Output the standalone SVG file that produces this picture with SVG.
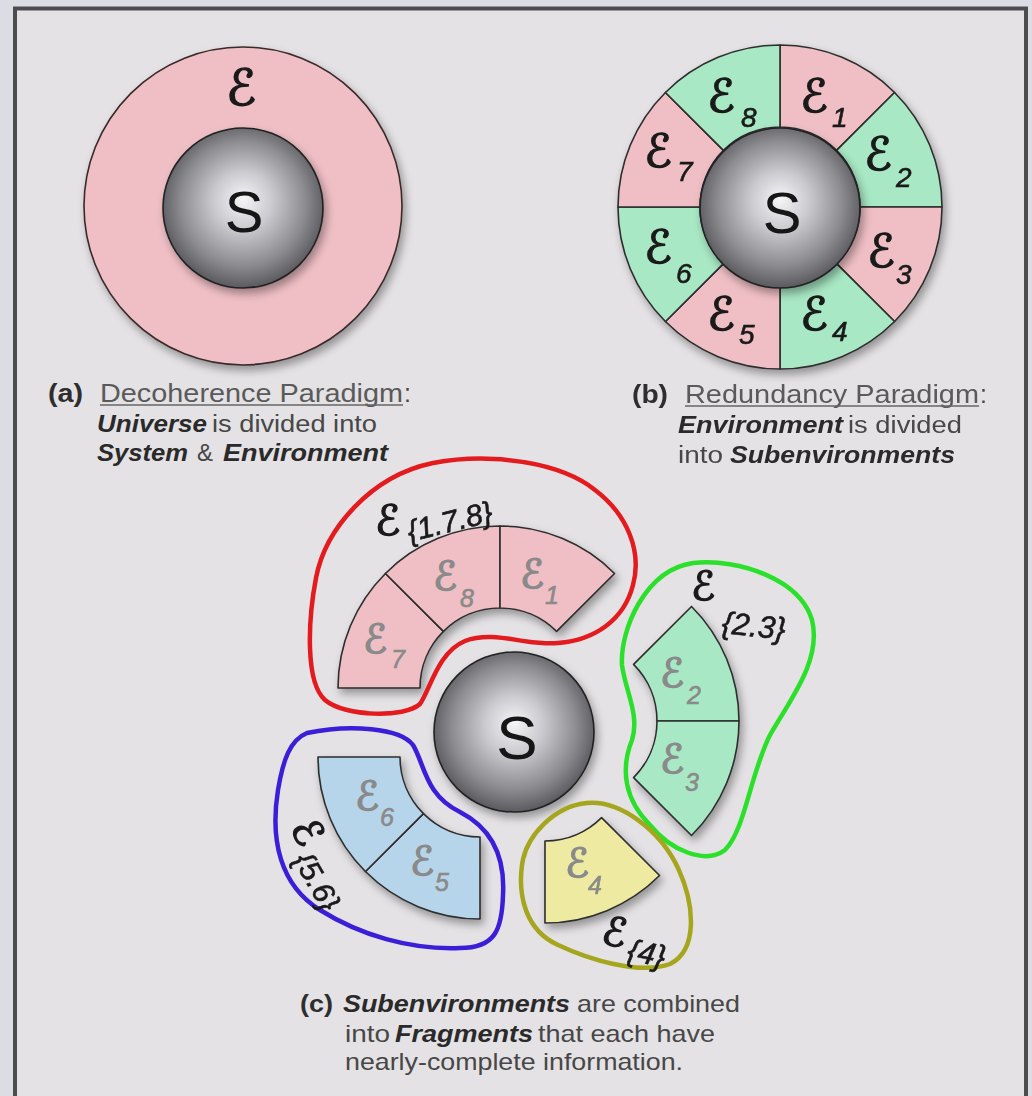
<svg xmlns="http://www.w3.org/2000/svg" xmlns:xlink="http://www.w3.org/1999/xlink" width="1032" height="1096" viewBox="0 0 1032 1096">
<style>
.cap{font-family:"Liberation Sans",Arial,sans-serif;fill:#474747}
.b{font-weight:bold;fill:#2e2e2e}
.bi{font-weight:bold;font-style:italic;fill:#2a2a2a}
.ul{fill:#5a5a5a}
.s{font-family:"Liberation Sans",Arial,sans-serif;fill:#151515;text-anchor:middle}
.E{font-family:"DejaVu Sans",sans-serif;fill:#1a1a1a;stroke:#1a1a1a;stroke-width:1.4;stroke-linejoin:round}
.sub{font-family:"Liberation Sans",Arial,sans-serif;font-style:italic;fill:#1a1a1a;stroke:#1a1a1a;stroke-width:0.6}
.g .E,.g .sub{fill:#8a8a8a;stroke:#8a8a8a}
.seg{stroke:#2d2d2d;stroke-width:1.6;stroke-linejoin:round}
.pk{fill:#efbfc5}.gr{fill:#a8e8c4}.bl{fill:#b6d5ea}.ye{fill:#eeeaa2}
.blob{fill:none;stroke-width:4.5;stroke-linejoin:round}
.sph{fill:url(#sph);stroke:#222;stroke-width:1.6}
</style>
<defs>
<radialGradient id="sph" cx="50%" cy="48%" r="52%" fx="50%" fy="44%">
<stop offset="0" stop-color="#f6f6f8"/>
<stop offset="0.35" stop-color="#cacacf"/>
<stop offset="0.75" stop-color="#8b8b90"/>
<stop offset="1" stop-color="#5a5a5f"/>
</radialGradient>
<filter id="sh" x="-20%" y="-20%" width="150%" height="150%">
<feDropShadow dx="3" dy="5" stdDeviation="4" flood-color="#000" flood-opacity="0.35"/>
</filter>
<path id="sector" d="M0,-162 A162,162 0 0 1 114.55,-114.55 L56.57,-56.57 A80,80 0 0 0 0,-80 Z"/>
</defs>

<rect x="0" y="0" width="1032" height="1096" fill="#dcdce4"/>
<rect x="15" y="8.5" width="1011" height="1120" fill="#e4e2e4" stroke="#4d4d50" stroke-width="4"/>

<!-- (a) -->
<g id="ringA" filter="url(#sh)">
<circle cx="243" cy="206" r="159" class="pk" stroke="#3a2a2a" stroke-width="1.6"/>
</g>
<g id="labelEA"><text class="E" x="226" y="105" font-size="50">ℰ</text></g>
<g id="sphereA" filter="url(#sh)">
<circle cx="243" cy="208" r="80" class="sph"/>
<text class="s" x="244" y="232" font-size="58">S</text>
</g>
<g id="captionA" class="cap">
<text class="b" x="48" y="402" font-size="25" textLength="35" lengthAdjust="spacingAndGlyphs">(a)</text>
<text class="ul" x="100" y="402" font-size="25" textLength="303" lengthAdjust="spacingAndGlyphs">Decoherence Paradigm</text>
<line x1="100" y1="405" x2="403" y2="405" stroke="#666" stroke-width="1.5"/>
<text x="404" y="402" font-size="25">:</text>
<text class="bi" x="97" y="432" font-size="23" textLength="110" lengthAdjust="spacingAndGlyphs">Universe</text>
<text x="212" y="432" font-size="23" textLength="165" lengthAdjust="spacingAndGlyphs">is divided into</text>
<text class="bi" x="97" y="461" font-size="23" textLength="91" lengthAdjust="spacingAndGlyphs">System</text>
<text x="197" y="461" font-size="23" textLength="16" lengthAdjust="spacingAndGlyphs">&amp;</text>
<text class="bi" x="223" y="461" font-size="23" textLength="165" lengthAdjust="spacingAndGlyphs">Environment</text>
</g>

<!-- (b) -->
<g id="ringB" filter="url(#sh)">
<g id="b-e1"><use xlink:href="#sector" class="seg pk" transform="translate(780,207) rotate(0)"/></g>
<g id="b-e2"><use xlink:href="#sector" class="seg gr" transform="translate(780,207) rotate(45)"/></g>
<g id="b-e3"><use xlink:href="#sector" class="seg pk" transform="translate(780,207) rotate(90)"/></g>
<g id="b-e4"><use xlink:href="#sector" class="seg gr" transform="translate(780,207) rotate(135)"/></g>
<g id="b-e5"><use xlink:href="#sector" class="seg pk" transform="translate(780,207) rotate(180)"/></g>
<g id="b-e6"><use xlink:href="#sector" class="seg gr" transform="translate(780,207) rotate(225)"/></g>
<g id="b-e7"><use xlink:href="#sector" class="seg pk" transform="translate(780,207) rotate(270)"/></g>
<g id="b-e8"><use xlink:href="#sector" class="seg gr" transform="translate(780,207) rotate(315)"/></g>
</g>
<g id="labelsB">
<text class="E" x="707" y="112" font-size="46">ℰ</text><text class="sub" x="741" y="127" font-size="28">8</text>
<text class="E" x="800" y="112" font-size="46">ℰ</text><text class="sub" x="832" y="127" font-size="28">1</text>
<text class="E" x="644" y="167" font-size="46">ℰ</text><text class="sub" x="677" y="181" font-size="28">7</text>
<text class="E" x="864" y="170" font-size="46">ℰ</text><text class="sub" x="896" y="187" font-size="28">2</text>
<text class="E" x="644" y="263" font-size="46">ℰ</text><text class="sub" x="676" y="283" font-size="28">6</text>
<text class="E" x="867" y="267" font-size="46">ℰ</text><text class="sub" x="896" y="284" font-size="28">3</text>
<text class="E" x="707" y="330" font-size="46">ℰ</text><text class="sub" x="739" y="344" font-size="28">5</text>
<text class="E" x="800" y="330" font-size="46">ℰ</text><text class="sub" x="832" y="341" font-size="28">4</text>
</g>
<g id="sphereB" filter="url(#sh)">
<circle cx="780" cy="208" r="80" class="sph"/>
<text class="s" x="782" y="233" font-size="58">S</text>
</g>
<g id="captionB" class="cap">
<text class="b" x="632" y="403" font-size="25" textLength="36" lengthAdjust="spacingAndGlyphs">(b)</text>
<text class="ul" x="685" y="403" font-size="25" textLength="294" lengthAdjust="spacingAndGlyphs">Redundancy Paradigm</text>
<line x1="685" y1="406" x2="979" y2="406" stroke="#666" stroke-width="1.5"/>
<text x="980" y="403" font-size="25">:</text>
<text class="bi" x="678" y="433" font-size="23" textLength="165" lengthAdjust="spacingAndGlyphs">Environment</text>
<text x="848" y="433" font-size="23" textLength="114" lengthAdjust="spacingAndGlyphs">is divided</text>
<text x="678" y="463" font-size="23" textLength="45" lengthAdjust="spacingAndGlyphs">into</text>
<text class="bi" x="730" y="463" font-size="23" textLength="225" lengthAdjust="spacingAndGlyphs">Subenvironments</text>
</g>

<!-- (c) -->
<g id="sphereC" filter="url(#sh)">
<circle cx="514" cy="732" r="80" class="sph"/>
<text class="s" x="517" y="759" font-size="62">S</text>
</g>

<g id="fragRed" class="g">
<g filter="url(#sh)">
<use xlink:href="#sector" class="seg pk" transform="translate(500,688) rotate(270)"/>
<use xlink:href="#sector" class="seg pk" transform="translate(500,688) rotate(315)"/>
<use xlink:href="#sector" class="seg pk" transform="translate(500,688) rotate(0)"/>
</g>
<text class="E" x="433" y="590" font-size="40">ℰ</text><text class="sub" x="460" y="607" font-size="25">8</text>
<text class="E" x="520" y="588" font-size="40">ℰ</text><text class="sub" x="545" y="604" font-size="25">1</text>
<text class="E" x="363" y="653" font-size="40">ℰ</text><text class="sub" x="391" y="668" font-size="25">7</text>
</g>
<g id="fragGreen" class="g">
<g filter="url(#sh)">
<use xlink:href="#sector" class="seg gr" transform="translate(577,721) rotate(45)"/>
<use xlink:href="#sector" class="seg gr" transform="translate(577,721) rotate(90)"/>
</g>
<text class="E" x="660" y="687" font-size="40">ℰ</text><text class="sub" x="687" y="704" font-size="25">2</text>
<text class="E" x="660" y="773" font-size="40">ℰ</text><text class="sub" x="685" y="791" font-size="25">3</text>
</g>
<g id="fragBlue" class="g">
<g filter="url(#sh)">
<use xlink:href="#sector" class="seg bl" transform="translate(480,757) rotate(180)"/>
<use xlink:href="#sector" class="seg bl" transform="translate(480,757) rotate(225)"/>
</g>
<text class="E" x="355" y="810" font-size="40">ℰ</text><text class="sub" x="380" y="826" font-size="25">6</text>
<text class="E" x="410" y="875" font-size="40">ℰ</text><text class="sub" x="435" y="891" font-size="25">5</text>
</g>
<g id="fragYellow" class="g">
<g filter="url(#sh)">
<use xlink:href="#sector" class="seg ye" transform="translate(545,761) rotate(135)"/>
</g>
<text class="E" x="565" y="877" font-size="40">ℰ</text><text class="sub" x="588" y="894" font-size="25">4</text>
</g>

<g id="outlines">
<path class="blob" stroke="#e31b1e" d="M433,463 C490,452 560,462 595,490 C628,515 642,552 633,585 C624,620 595,640 558,643 C525,646 495,630 465,641 C438,652 430,690 420,704 C405,718 345,717 325,700 C305,682 308,620 316,578 C325,530 370,476 433,463 Z"/>
<path class="blob" stroke="#2ae02a" d="M693,563 C740,558 800,580 812,620 C822,660 790,700 770,735 C750,775 745,830 725,850 C705,865 670,850 650,825 C625,800 620,770 632,740 C640,715 625,690 622,665 C620,630 645,570 693,563 Z"/>
<path class="blob" stroke="#3b1fd8" d="M307,733 C350,724 400,728 413,745 C425,765 425,795 460,812 C495,830 505,860 503,895 C502,930 495,948 460,948 C410,950 360,935 320,910 C280,885 270,840 278,790 C283,760 290,740 307,733 Z"/>
<path class="blob" stroke="#a5a51e" d="M587,803 C620,800 660,830 678,868 C695,905 698,950 670,964 C640,975 590,960 558,945 C525,930 518,895 522,865 C526,835 555,806 587,803 Z"/>
</g>

<g id="fragLabels">
<g id="lab178">
<text class="E" x="375" y="535" font-size="42">ℰ</text>
<text class="sub" x="410" y="542" font-size="30" font-style="normal" transform="rotate(-14 410 542)">{1.7.8}</text>
</g>
<g id="lab23">
<text class="E" x="691" y="600" font-size="40">ℰ</text>
<text class="sub" x="721" y="633" font-size="31" transform="rotate(6 721 633)">{2.3}</text>
</g>
<g id="lab56" transform="rotate(60 310 836)">
<text class="E" x="293" y="850" font-size="40">ℰ</text>
<text class="sub" x="322" y="863" font-size="30">{5.6}</text>
</g>
<g id="lab4" transform="rotate(12 620 940)">
<text class="E" x="601" y="947" font-size="40">ℰ</text>
<text class="sub" x="630" y="958" font-size="31">{4}</text>
</g>
</g>

<g id="captionC" class="cap">
<text class="b" x="300" y="1012" font-size="24" textLength="33" lengthAdjust="spacingAndGlyphs">(c)</text>
<text class="bi" x="343" y="1012" font-size="24" textLength="227" lengthAdjust="spacingAndGlyphs">Subenvironments</text>
<text x="577" y="1012" font-size="24" textLength="163" lengthAdjust="spacingAndGlyphs">are combined</text>
<text x="345" y="1042" font-size="24" textLength="45" lengthAdjust="spacingAndGlyphs">into</text>
<text class="bi" x="395" y="1042" font-size="24" textLength="138" lengthAdjust="spacingAndGlyphs">Fragments</text>
<text x="538" y="1042" font-size="24" textLength="177" lengthAdjust="spacingAndGlyphs">that each have</text>
<text x="345" y="1070" font-size="24" textLength="338" lengthAdjust="spacingAndGlyphs">nearly-complete information.</text>
</g>
</svg>
